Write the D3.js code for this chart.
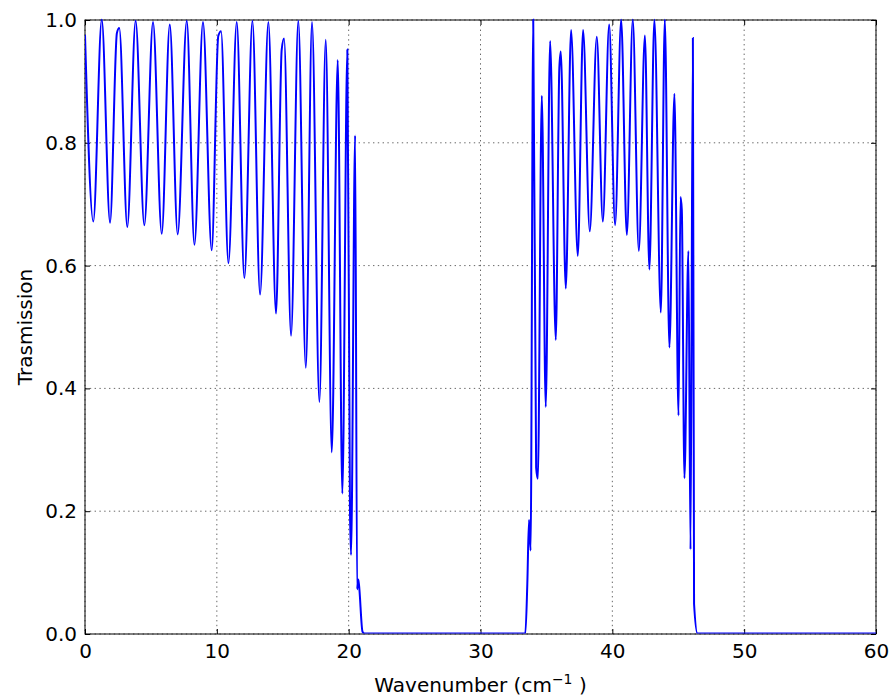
<!DOCTYPE html>
<meta charset="utf-8">
<head>
<style>
  body { margin: 0; background: #fff; }
  svg text { font-family: "DejaVu Sans", sans-serif; fill: #000; }
</style>
</head>
<body>
<script src="https://d3js.org/d3.v7.min.js"></script>
<script>
 // extrema (wavenumber, transmission)
 const wavenumber = [
   0.0, 0.63, 1.27, 1.9, 2.42, 2.6, 3.21, 3.84, 4.5, 5.16, 5.82, 6.43, 7.03, 7.72,
   8.3, 8.95, 9.61, 10.11, 10.32, 10.88, 11.51, 12.09, 12.7, 13.28, 13.91, 14.49,
   14.92, 15.1, 15.63, 16.18, 16.75, 17.22, 17.78, 18.26, 18.72, 19.17, 19.52,
   19.9, 20.1, 20.18, 20.49, 20.64, 20.72, 20.78, 21.05, 21.2,
   33.4, 33.55, 33.68, 33.8, 34.0, 34.22, 34.35, 34.65, 34.95, 35.28, 35.71,
   35.98, 36.09, 36.47, 36.87, 37.38, 37.78, 38.29, 38.82, 39.28, 39.76, 40.21,
   40.67, 41.1, 41.55, 42.01, 42.47, 42.81, 43.19, 43.68, 43.98, 44.33, 44.71,
   45.02, 45.17, 45.27, 45.47, 45.77, 45.93, 46.11, 46.2, 46.46, 60.0
 ];
 const transmission = [
   0.975, 0.671, 1.0, 0.669, 0.978, 0.986, 0.662, 0.998, 0.665, 0.996, 0.651, 0.992, 0.65, 0.998,
   0.633, 0.996, 0.624, 0.973, 0.981, 0.603, 0.996, 0.579, 0.998, 0.552, 0.996, 0.521,
   0.951, 0.969, 0.485, 0.998, 0.433, 0.996, 0.377, 0.967, 0.295, 0.934, 0.228,
   0.951, 0.2, 0.128, 0.811, 0.072, 0.088, 0.08, 0.003, 0.0,
   0.0, 0.08, 0.185, 0.135, 1.0, 0.27, 0.252, 0.876, 0.369, 0.965, 0.478,
   0.921, 0.948, 0.562, 0.983, 0.615, 0.983, 0.655, 0.972, 0.671, 0.992, 0.665,
   1.0, 0.649, 1.0, 0.623, 0.974, 0.593, 1.0, 0.523, 1.0, 0.466, 0.879,
   0.355, 0.711, 0.69, 0.253, 0.623, 0.137, 0.97, 0.048, 0.0, 0.0
 ];
 const xTicks = [0, 10, 20, 30, 40, 50, 60];
 const yTicks = [0.0, 0.2, 0.4, 0.6, 0.8, 1.0];

 const width = 892, height = 700;
 const margin = {top: 20, right: 16, bottom: 66, left: 85};
 const iw = width - margin.left - margin.right,
       ih = height - margin.top - margin.bottom;

 const svg = d3.select("body").append("svg")
               .attr("width", width)
               .attr("height", height);

 const g = svg.append("g")
              .attr("transform", `translate(${margin.left},${margin.top})`);

 const x = d3.scaleLinear().domain([0, 60]).range([0, iw]);
 const y = d3.scaleLinear().domain([0, 1]).range([ih, 0]);

 // grid
 g.append("g").selectAll("line").data(xTicks).join("line")
  .attr("x1", d => x(d)).attr("x2", d => x(d))
  .attr("y1", 0).attr("y2", ih)
  .attr("stroke", "#000").attr("stroke-width", 0.6)
  .attr("stroke-dasharray", "1.4,3.4");
 g.append("g").selectAll("line").data(yTicks).join("line")
  .attr("y1", d => y(d)).attr("y2", d => y(d))
  .attr("x1", 0).attr("x2", iw)
  .attr("stroke", "#000").attr("stroke-width", 0.6)
  .attr("stroke-dasharray", "1.4,3.4");

 // axes with inward ticks
 const fmt = d3.format(".1f");
 const xAxis = g.append("g").attr("transform", `translate(0,${ih})`)
   .call(d3.axisBottom(x).tickValues(xTicks).tickSizeInner(-5).tickSizeOuter(0).tickPadding(10));
 const xTop = g.append("g")
   .call(d3.axisTop(x).tickValues(xTicks).tickSizeInner(-5).tickSizeOuter(0).tickFormat(""));
 const yAxis = g.append("g")
   .call(d3.axisLeft(y).tickValues(yTicks).tickFormat(fmt).tickSizeInner(-5).tickSizeOuter(0).tickPadding(8));
 const yRight = g.append("g").attr("transform", `translate(${iw},0)`)
   .call(d3.axisRight(y).tickValues(yTicks).tickSizeInner(-5).tickSizeOuter(0).tickFormat(""));

 [xAxis, xTop, yAxis, yRight].forEach(a => {
   a.select(".domain").remove();
   a.selectAll("line").attr("stroke", "#000");
   a.selectAll("text").style("font-size", "20px").attr("fill", "#000");
 });

 // frame
 g.append("rect")
  .attr("width", iw).attr("height", ih)
  .attr("fill", "none").attr("stroke", "#000").attr("stroke-width", 1);

 // curve
 g.append("clipPath").attr("id", "clip")
  .append("rect").attr("x", 0).attr("y", -1).attr("width", iw).attr("height", ih + 1);

 const pts = wavenumber.map((w, i) => [w, transmission[i]]);
 const line = d3.line()
                .x(d => x(d[0]))
                .y(d => y(d[1]))
                .curve(d3.curveMonotoneX);

 g.append("path")
  .datum(pts)
  .attr("clip-path", "url(#clip)")
  .attr("transform", "translate(0,-0.5)")
  .attr("fill", "none")
  .attr("stroke", "#0000ff")
  .attr("stroke-width", 2)
  .attr("d", line);

 // labels
 const xl = svg.append("text")
   .attr("x", margin.left + iw / 2)
   .attr("y", 692)
   .attr("text-anchor", "middle")
   .style("font-size", "20px");
 xl.append("tspan").text("Wavenumber (cm");
 xl.append("tspan").attr("dy", -8).style("font-size", "14px").text("\u22121");
 xl.append("tspan").attr("dy", 8).text(" )");

 svg.append("text")
    .attr("transform", `translate(32,${margin.top + ih / 2}) rotate(-90)`)
    .attr("text-anchor", "middle")
    .style("font-size", "20px")
    .text("Trasmission");
</script>
</body>
